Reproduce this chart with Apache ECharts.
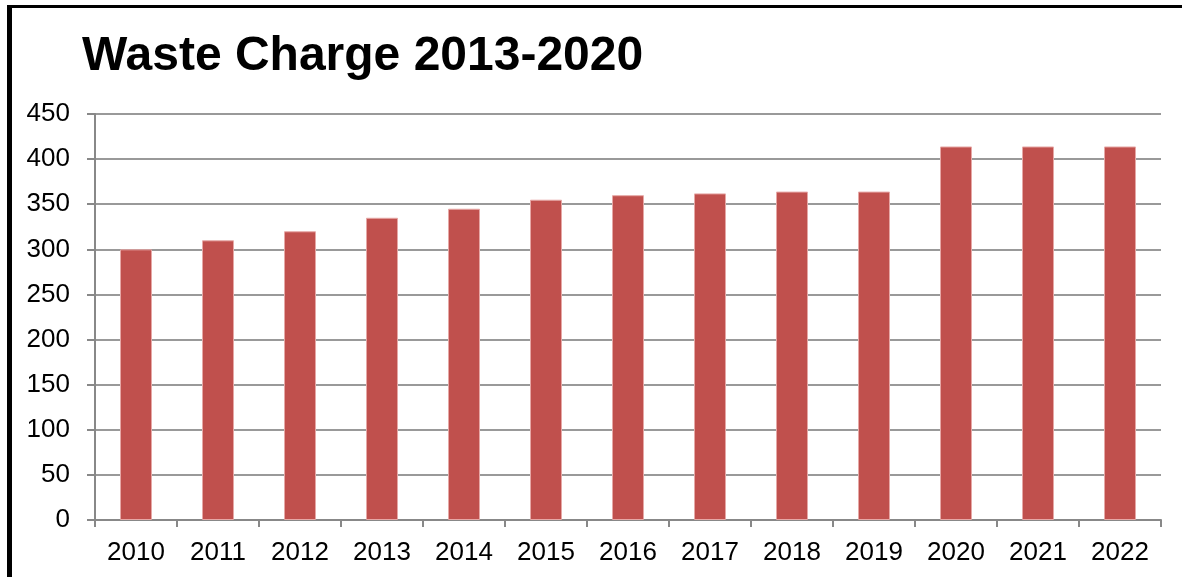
<!DOCTYPE html>
<html>
<head>
<meta charset="utf-8">
<script src="https://cdn.jsdelivr.net/npm/echarts@6/dist/echarts.min.js"></script>
<style>
html,body{margin:0;padding:0;background:#fff;}
#chart{width:1182px;height:577px;}
</style>
</head>
<body>
<div id="chart"></div>
<script>
const titleText = 'Waste Charge 2013-2020';
const years = ['2010','2011','2012','2013','2014','2015','2016','2017','2018','2019','2020','2021','2022'];
const charges = [300, 310, 320, 335, 345, 355, 360, 362, 364, 364, 414, 414, 414];

const chart = echarts.init(document.getElementById('chart'), null, {renderer: 'canvas'});
chart.setOption({
  animation: false,
  backgroundColor: '#fff',
  title: {
    text: titleText,
    left: 77,
    top: 28,
    textStyle: {fontFamily: 'Liberation Sans, Arial, sans-serif', fontWeight: 'bold', fontSize: 48, color: '#000'}
  },
  graphic: [
    {type: 'rect', shape: {x: 7, y: 5, width: 1175, height: 3}, style: {fill: '#000'}},
    {type: 'rect', shape: {x: 7, y: 5, width: 5, height: 572}, style: {fill: '#000'}}
  ],
  grid: {left: 95, right: 21, top: 114, bottom: 57, containLabel: false},
  xAxis: {
    type: 'category',
    data: years,
    axisLine: {lineStyle: {color: '#888', width: 2}},
    axisTick: {show: true, length: 7, lineStyle: {color: '#888', width: 2}},
    axisLabel: {fontFamily: 'Liberation Sans, Arial, sans-serif', fontSize: 26, color: '#000', margin: 20}
  },
  yAxis: {
    type: 'value',
    min: 0, max: 450, interval: 50,
    axisLine: {show: true, lineStyle: {color: '#888', width: 2}},
    axisTick: {show: true, length: 8, lineStyle: {color: '#888', width: 2}},
    splitLine: {lineStyle: {color: '#999', width: 2}},
    axisLabel: {fontFamily: 'Liberation Sans, Arial, sans-serif', fontSize: 26, color: '#000', margin: 25}
  },
  series: [{
    type: 'bar',
    data: charges,
    barWidth: 32,
    itemStyle: {color: '#c0504d', borderColor: '#e6a8a6', borderWidth: 1}
  }]
});
</script>
</body>
</html>
